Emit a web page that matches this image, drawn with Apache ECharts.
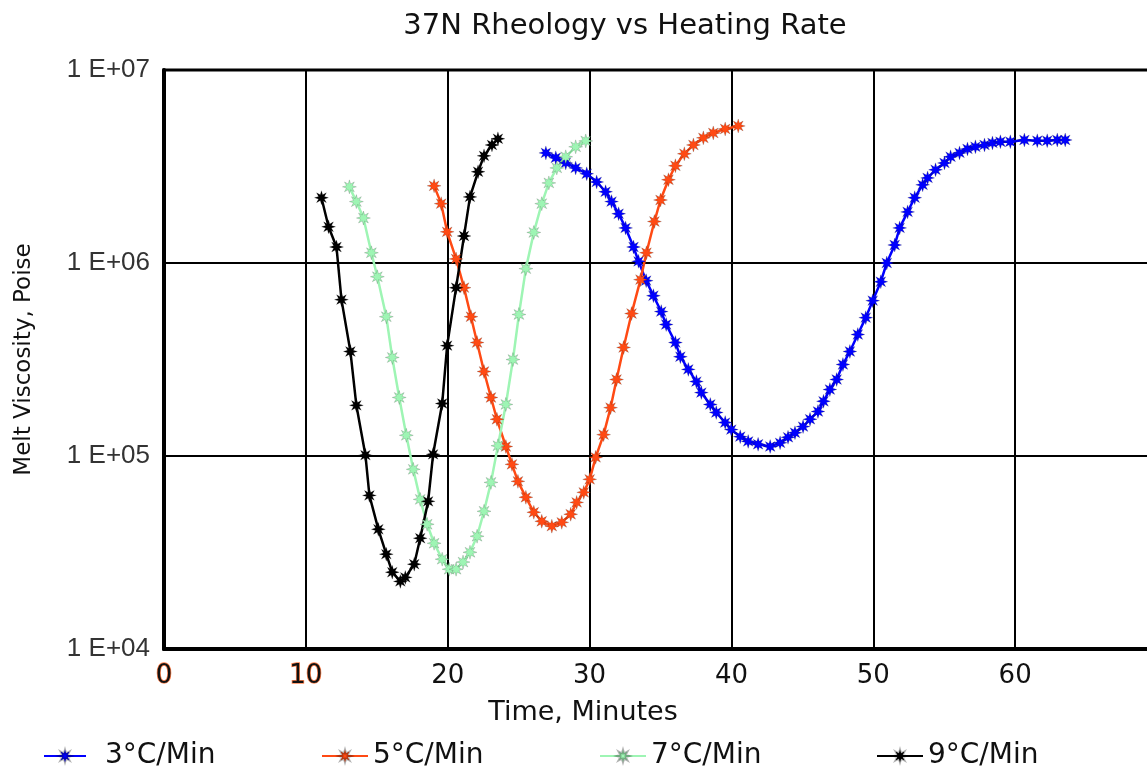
<!DOCTYPE html>
<html>
<head>
<meta charset="utf-8">
<title>37N Rheology vs Heating Rate</title>
<script src="https://cdn.jsdelivr.net/npm/echarts@6/dist/echarts.min.js"></script>
<style>
  html, body { margin: 0; padding: 0; background: #fff; }
  #chart { width: 1147px; height: 776px; }
</style>
</head>
<body>
<div id="chart"></div>
<script>
  // time in minutes, melt viscosity in poise
  const rate3Time = [26.92, 27.62, 28.32, 29.02, 29.80, 30.50, 31.13, 31.55, 32.05, 32.54,
    33.10, 33.45, 33.99, 34.50, 35.05, 35.40, 36.05, 36.40, 36.96, 37.53,
    37.88, 38.51, 38.93, 39.56, 39.99, 40.62, 41.18, 41.88, 42.73, 43.43,
    43.99, 44.48, 45.05, 45.54, 46.10, 46.49, 46.94, 47.42, 47.86, 48.35,
    48.91, 49.47, 49.96, 50.53, 50.95, 51.51, 51.86, 52.42, 52.92, 53.48,
    53.83, 54.39, 55.02, 55.45, 56.08, 56.64, 57.20, 57.84, 58.40, 58.96,
    59.66, 60.65, 61.56, 62.26, 62.97, 63.53]
  const rate3Visc = [3.72e6, 3.51e6, 3.30e6, 3.11e6, 2.90e6, 2.63e6, 2.34e6, 2.08e6, 1.80e6, 1.52e6,
    1.21e6, 1.02e6, 8.10e5, 6.77e5, 5.60e5, 4.80e5, 3.87e5, 3.27e5, 2.81e5, 2.43e5,
    2.13e5, 1.85e5, 1.68e5, 1.49e5, 1.37e5, 1.26e5, 1.19e5, 1.15e5, 1.12e5, 1.17e5,
    1.25e5, 1.32e5, 1.42e5, 1.55e5, 1.70e5, 1.92e5, 2.21e5, 2.49e5, 2.98e5, 3.48e5,
    4.26e5, 5.21e5, 6.38e5, 8.00e5, 1.00e6, 1.24e6, 1.52e6, 1.84e6, 2.18e6, 2.54e6,
    2.76e6, 3.04e6, 3.30e6, 3.55e6, 3.72e6, 3.90e6, 4.00e6, 4.09e6, 4.19e6, 4.25e6,
    4.25e6, 4.34e6, 4.30e6, 4.30e6, 4.34e6, 4.34e6]

  const rate5Time = [19.04, 19.54, 19.96, 20.59, 21.15, 21.64, 22.07, 22.56, 23.05, 23.47,
    24.10, 24.53, 24.95, 25.51, 26.07, 26.63, 27.34, 28.04, 28.67, 29.09,
    29.59, 30.01, 30.43, 30.99, 31.48, 31.90, 32.40, 32.96, 33.59, 34.01,
    34.57, 35.00, 35.56, 36.05, 36.68, 37.32, 38.02, 38.72, 39.56, 40.48]
  const rate5Visc = [2.51e6, 2.03e6, 1.45e6, 1.05e6, 7.45e5, 5.27e5, 3.87e5, 2.74e5, 2.01e5, 1.55e5,
    1.12e5, 9.05e4, 7.39e4, 6.11e4, 5.11e4, 4.59e4, 4.33e4, 4.53e4, 4.99e4, 5.75e4,
    6.48e4, 7.57e4, 9.84e4, 1.29e5, 1.78e5, 2.49e5, 3.65e5, 5.47e5, 8.20e5, 1.13e6,
    1.64e6, 2.12e6, 2.70e6, 3.19e6, 3.68e6, 4.09e6, 4.45e6, 4.72e6, 4.95e6, 5.13e6]

  const rate7Time = [13.07, 13.56, 14.06, 14.62, 15.04, 15.67, 16.09, 16.58, 17.08, 17.57,
    18.06, 18.55, 19.04, 19.61, 20.10, 20.59, 21.08, 21.57, 22.07, 22.56,
    23.05, 23.54, 24.10, 24.60, 25.02, 25.51, 26.07, 26.63, 27.13, 27.69,
    28.32, 29.02, 29.73]
  const rate7Visc = [2.48e6, 2.08e6, 1.71e6, 1.13e6, 8.49e5, 5.27e5, 3.24e5, 2.01e5, 1.28e5, 8.53e4,
    5.96e4, 4.43e4, 3.53e4, 2.92e4, 2.59e4, 2.59e4, 2.82e4, 3.17e4, 3.84e4, 5.17e4,
    7.30e4, 1.13e5, 1.85e5, 3.16e5, 5.41e5, 9.35e5, 1.44e6, 2.03e6, 2.60e6, 3.11e6,
    3.55e6, 4.00e6, 4.29e6]

  const rate9Time = [11.10, 11.60, 12.16, 12.51, 13.14, 13.56, 14.20, 14.48, 15.11, 15.67,
    16.09, 16.66, 17.01, 17.64, 18.06, 18.62, 18.97, 19.61, 19.96, 20.59,
    21.15, 21.57, 22.14, 22.56, 23.12, 23.54]
  const rate9Visc = [2.18e6, 1.54e6, 1.21e6, 6.46e5, 3.48e5, 1.83e5, 1.01e5, 6.25e4, 4.17e4, 3.10e4,
    2.50e4, 2.24e4, 2.35e4, 2.75e4, 3.75e4, 5.82e4, 1.02e5, 1.87e5, 3.73e5, 7.45e5,
    1.38e6, 2.20e6, 2.97e6, 3.59e6, 4.09e6, 4.40e6]

  const seriesNames = ['3°C/Min', '5°C/Min', '7°C/Min', '9°C/Min']
  const seriesColors = ['#0000ff', '#ff4a14', '#9ef5b4', '#000000']
  const xTicks = [0, 10, 20, 30, 40, 50, 60]
  const yTicks = [1e4, 1e5, 1e6, 1e7]

  const comic = 'DejaVu Sans'
  // 8 point asterisk marker
  const star = 'path://M20 10L14.16 11.72L17.07 17.07L11.72 14.16L10 20L8.28 14.16L2.93 17.07L5.84 11.72L0 10L5.84 8.28L2.93 2.93L8.28 5.84L10 0L11.72 5.84L17.07 2.93L14.16 8.28Z'

  function pairs(xs, ys) {
    return xs.map((x, i) => [x, ys[i]])
  }
  const allData = [
    pairs(rate3Time, rate3Visc),
    pairs(rate5Time, rate5Visc),
    pairs(rate7Time, rate7Visc),
    pairs(rate9Time, rate9Visc)
  ]

  const legendLeft = [38, 316, 594, 871]

  const chart = echarts.init(document.getElementById('chart'), null, { renderer: 'canvas' })
  chart.setOption({
    animation: false,
    backgroundColor: '#fff',
    title: [{
      text: '37N Rheology vs Heating Rate',
      left: 620,
      top: 7,
      textAlign: 'center',
      textStyle: { fontFamily: comic, fontSize: 29, fontWeight: 'normal', color: '#111' }
    }, {
      text: 'Time, Minutes',
      left: 578,
      top: 694,
      textAlign: 'center',
      textStyle: { fontFamily: comic, fontSize: 27, fontWeight: 'normal', color: '#111' }
    }],
    legend: seriesNames.map((name, i) => ({
      data: [name],
      left: legendLeft[i],
      top: 737,
      itemWidth: i === 0 ? 42 : 46,
      itemHeight: 16,
      itemGap: 0,
      textStyle: {
        fontFamily: comic,
        fontSize: 28,
        color: '#111',
        padding: [0, 0, 0, i === 0 ? 14 : 0]
      }
    })),
    grid: {
      left: 164,
      top: 70,
      width: 993,
      height: 579,
      outerBoundsMode: 'none',
      containLabel: false,
      show: true,
      borderColor: '#000',
      borderWidth: 3
    },
    xAxis: {
      type: 'value',
      min: 0,
      max: 70,
      interval: 10,
      axisLine: { show: true, onZero: false, lineStyle: { color: '#000', width: 4 } },
      axisTick: { show: false },
      splitLine: { show: true, lineStyle: { color: '#000', width: 2 } },
      axisLabel: {
        margin: 14,
        fontFamily: comic,
        fontSize: 26,
        color: '#111',
        formatter: v => {
          if (xTicks.indexOf(v) < 0) return ''
          return v < 20 ? '{o|' + v + '}' : String(v)
        },
        rich: {
          o: {
            fontFamily: comic,
            fontSize: 26,
            color: '#111',
            textBorderColor: 'rgba(255,90,20,0.75)',
            textBorderWidth: 1.5
          }
        }
      }
    },
    yAxis: {
      type: 'log',
      logBase: 10,
      min: yTicks[0],
      max: yTicks[yTicks.length - 1],
      name: 'Melt Viscosity, Poise',
      nameLocation: 'middle',
      nameGap: 128,
      nameRotate: 90,
      nameTextStyle: { fontFamily: comic, fontSize: 23, color: '#111' },
      axisLine: { show: true, lineStyle: { color: '#000', width: 4 } },
      axisTick: { show: false },
      splitLine: { show: true, lineStyle: { color: '#000', width: 2 } },
      axisLabel: {
        margin: 14,
        fontFamily: 'Liberation Sans Narrow, Liberation Sans',
        fontSize: 26,
        color: '#333',
        formatter: v => '1 E+0' + Math.round(Math.log10(v))
      }
    },
    series: seriesNames.map((name, i) => ({
      name: name,
      type: 'line',
      data: allData[i],
      showSymbol: true,
      symbol: star,
      symbolSize: 14,
      color: seriesColors[i],
      lineStyle: { color: seriesColors[i], width: 2.5 },
      itemStyle: { color: seriesColors[i], borderColor: 'rgba(0,0,0,0.3)', borderWidth: 0.5 }
    }))
  })
</script>
</body>
</html>
